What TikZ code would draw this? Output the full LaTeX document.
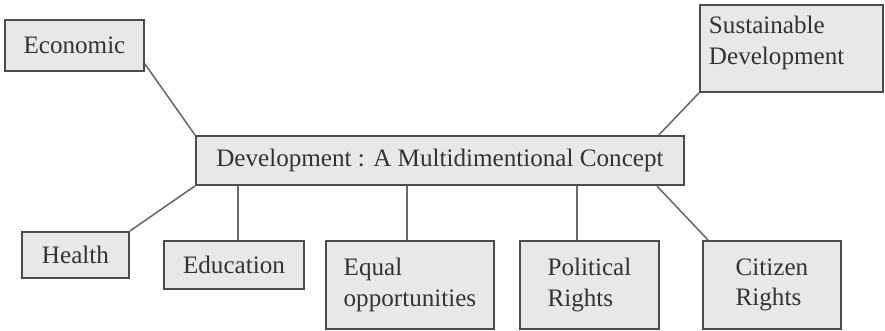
\documentclass[tikz,border=0pt]{standalone}
\usepackage{fontspec}
\setmainfont{Liberation Serif}
\usepackage{xcolor}
\usepackage{tikz}

\begin{document}
\begin{tikzpicture}[x=0.02cm,y=-0.02cm,
  cbox/.style={draw=black!70,fill=black!9,line width=1.1pt,text=black!80,anchor=north west,inner sep=0pt,font=\fontsize{14.3}{17.5}\selectfont},
  link/.style={draw=black!58,line width=0.9pt}]
  \useasboundingbox (0,0) rectangle (885,331);
  \node[cbox,minimum width=2.78cm,minimum height=1.02cm] (eco) at (4,19) {Economic};
  \node[cbox,minimum width=3.66cm,minimum height=1.74cm,inner xsep=0.18cm,inner ysep=0.22cm] (sus) at (699,4) {\parbox[c][1.3cm][t]{3.3cm}{Sustainable\\Development}};
  \node[cbox,minimum width=9.76cm,minimum height=0.98cm] (dev) at (195,135) {Development : A Multidimentional Concept};
  \node[cbox,minimum width=2.14cm,minimum height=0.92cm] (hea) at (21,231) {Health};
  \node[cbox,minimum width=2.8cm,minimum height=0.96cm] (edu) at (163,240) {Education};
  \node[cbox,minimum width=3.36cm,minimum height=1.76cm,align=left] (eqo) at (325,240) {Equal\\opportunities};
  \node[cbox,minimum width=2.78cm,minimum height=1.76cm,align=left] (pol) at (519,240) {Political\\Rights};
  \node[cbox,minimum width=2.76cm,minimum height=1.76cm,align=left] (cit) at (702,240) {Citizen\\Rights};
  \draw[link] ([yshift=0.16cm]eco.south east) -- (dev.north west);
  \draw[link] (sus.south west) -- ([xshift=-0.52cm]dev.north east);
  \draw[link] (hea.north east) -- (dev.south west);
  \draw[link] ([xshift=0.08cm]edu.north) -- ([xshift=0.08cm]edu.north |- dev.south);
  \draw[link] ([xshift=-0.06cm]eqo.north) -- ([xshift=-0.06cm]eqo.north |- dev.south);
  \draw[link] ([xshift=-0.25cm]pol.north) -- ([xshift=-0.25cm]pol.north |- dev.south);
  \draw[link] ([xshift=-0.56cm]dev.south east) -- ([xshift=0.12cm]cit.north west);
\end{tikzpicture}
\end{document}
